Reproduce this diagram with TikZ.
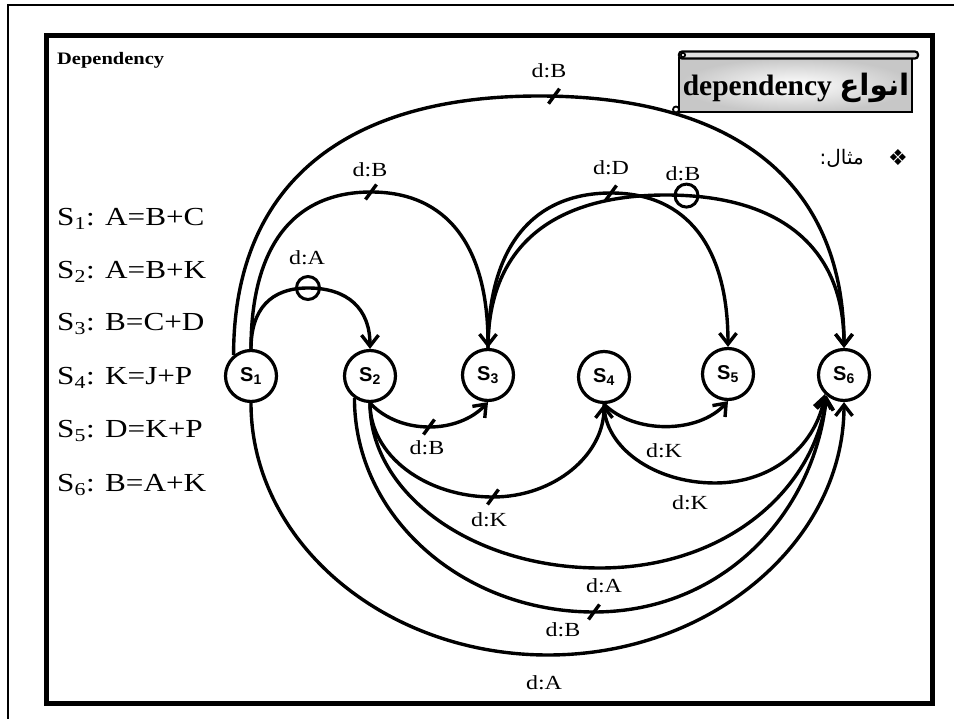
\documentclass[tikz,border=0pt]{standalone}
\usepackage{fontspec}
\usepackage{graphicx}
\setmainfont{Liberation Serif}
\newfontfamily\arialfont{Liberation Sans}
\newfontfamily\arabicfont[Script=Arabic]{DejaVu Sans}
\newfontfamily\symfont{DejaVu Sans}
\TeXXeTstate=1
\usetikzlibrary{arrows.meta}
\newcommand{\hs}[1]{\scalebox{1.2}[1]{#1}}
\begin{document}
\begin{tikzpicture}[x=1pt,y=-1pt,
  snode/.style={circle,draw,line width=3.2pt,minimum size=51pt,inner sep=0pt,font=\arialfont\bfseries\fontsize{20}{20}\selectfont},
  dep/.style={line width=3.4pt,-{Straight Barb[length=11pt,width=17pt]}},
  tickmark/.style={line width=3.4pt},
  circmark/.style={circle,draw,line width=3pt,minimum size=23pt,inner sep=0pt},
  lab/.style={inner sep=0pt,font=\fontsize{20}{20}\selectfont},
  eq/.style={inner sep=0pt,anchor=base west,font=\fontsize{26}{26}\selectfont}]
\useasboundingbox (0,0) rectangle (954,719);
% borders
\draw[line width=1.4pt] (8,719) -- (8,5) -- (954,5);
\draw[line width=5.5pt] (46.5,35.5) rectangle (932.5,703.5);
% header
\node[inner sep=0pt,anchor=base west,font=\bfseries\fontsize{17.5}{17.5}\selectfont] (hdr) at (57,65) {\scalebox{1.17}[1]{Dependency}};
% scroll title
\shade[inner color=white,outer color=black!22] (679,58) rectangle (912,112);
\draw[line width=2.2pt] (679,58) rectangle (912,112);
\draw[line width=2.2pt,fill=black!12,rounded corners=3pt] (679,51.5) rectangle (918,58.5);
\draw[line width=1.6pt] (683,55) circle (2.2);
\draw[line width=1.8pt,fill=white] (676,109.5) circle (3);
\node[inner sep=0pt,anchor=base,font=\bfseries\fontsize{29.5}{29.5}\selectfont] (title) at (796,96) {dependency {\arabicfont\beginR انواع\endR}};
% example
\node[inner sep=0pt,font=\symfont\fontsize{22}{22}\selectfont] (bul) at (898,158) {❖};
\node[inner sep=0pt,anchor=base east,font=\arabicfont\fontsize{20}{20}\selectfont] (ex) at (864,165) {\beginR مثال:\endR};
% statements
\node[eq] (e1) at (57,226) {\hs{S\textsubscript{1}: A=B+C}};
\node[eq] (e2) at (57,279) {\hs{S\textsubscript{2}: A=B+K}};
\node[eq] (e3) at (57,331) {\hs{S\textsubscript{3}: B=C+D}};
\node[eq] (e4) at (57,385) {\hs{S\textsubscript{4}: K=J+P}};
\node[eq] (e5) at (57,438) {\hs{S\textsubscript{5}: D=K+P}};
\node[eq] (e6) at (57,492) {\hs{S\textsubscript{6}: B=A+K}};
% nodes
\node[snode] (s1) at (251,376) {S\textsubscript{1}};
\node[snode] (s2) at (370,376) {S\textsubscript{2}};
\node[snode] (s3) at (488,375) {S\textsubscript{3}};
\node[snode] (s4) at (604,377) {S\textsubscript{4}};
\node[snode] (s5) at (728,374) {S\textsubscript{5}};
\node[snode] (s6) at (844,375) {S\textsubscript{6}};
% peak coordinates
\coordinate (p1) at (308,288);
\coordinate (p2) at (371,192);
\coordinate (p3) at (539,96);
\coordinate (p4) at (611,193);
\coordinate (p5) at (666,195);
\coordinate (q3) at (493,497);
\coordinate (q4) at (715,483);
\coordinate (q5) at (600,568);
\coordinate (q6) at (594,612);
\coordinate (q7) at (548,655);
% top arcs
\draw[dep] (s1.north) .. controls +(0,-40) and +(-37,0) .. (p1) .. controls +(40,0) and +(0,-40) .. (s2.north);
\draw[dep] (s1.north) .. controls +(0,-102) and +(-78,0) .. (p2) .. controls +(76,0) and +(0,-102) .. (s3.north);
\draw[dep] (s1.130) .. controls +(0,-168) and +(-198,0) .. (p3) .. controls +(198,0) and +(0,-164) .. (s6.north);
\draw[dep] (s3.north) .. controls +(0,-100) and +(-79,0) .. (p4) .. controls +(76,0) and +(0,-100) .. (s5.north);
\draw[dep] (s3.north) .. controls +(0,-99) and +(-116,0) .. (p5) .. controls +(116,0) and +(0,-99) .. (s6.north);
% bottom arcs
\draw[dep] (s2.south) .. controls +(30,32) and +(-30,32) .. (s3.south);
\draw[dep] (s4.south) .. controls +(30,30) and +(-30,33) .. (s5.south);
\draw[dep] (s2.south) .. controls +(0,52) and +(-68,0) .. (q3) .. controls +(61,0) and +(0,51) .. (s4.south);
\draw[dep] (s4.south) .. controls +(0,43) and +(-61,0) .. (q4) .. controls +(61,0) and +(-8,48) .. (s6.225);
\draw[dep] (s2.south) .. controls +(0,91) and +(-127,0) .. (q5) .. controls +(125,0) and +(-13,95) .. (s6.230);
\draw[dep] (s2.235) .. controls +(0,118) and +(-132,0) .. (q6) .. controls +(128,0) and +(-13,119) .. (s6.230);
\draw[dep] (s1.south) .. controls +(0,139) and +(-163,0) .. (q7) .. controls +(163,0) and +(0,139) .. (s6.south);
% markers
\node[circmark] (m1) at (p1) {};
\node[circmark] (m5) at (686.5,195.6) {};
\coordinate (k2) at (p2);
\coordinate (k3) at (554,96.2);
\coordinate (k4) at (p4);
\coordinate (kb1) at (429,427);
\coordinate (kb3) at (q3);
\coordinate (kb6) at (q6);
\foreach \k in {k2,k3,k4,kb1,kb3,kb6}
  \draw[tickmark] (\k) ++(-5.5,7.5) -- ++(11,-15);
% labels
\node[lab] (l1) at (307,258) {\hs{d:A}};
\node[lab] (l2) at (370,170) {\hs{d:B}};
\node[lab] (l3) at (549,71) {\hs{d:B}};
\node[lab] (l4) at (611,168) {\hs{d:D}};
\node[lab] (l5) at (683,174) {\hs{d:B}};
\node[lab] (l6) at (427,448) {\hs{d:B}};
\node[lab] (l7) at (664,451) {\hs{d:K}};
\node[lab] (l8) at (489,520) {\hs{d:K}};
\node[lab] (l9) at (690,503) {\hs{d:K}};
\node[lab] (l10) at (604,586) {\hs{d:A}};
\node[lab] (l11) at (563,630) {\hs{d:B}};
\node[lab] (l12) at (544,683) {\hs{d:A}};
\end{tikzpicture}
\end{document}
